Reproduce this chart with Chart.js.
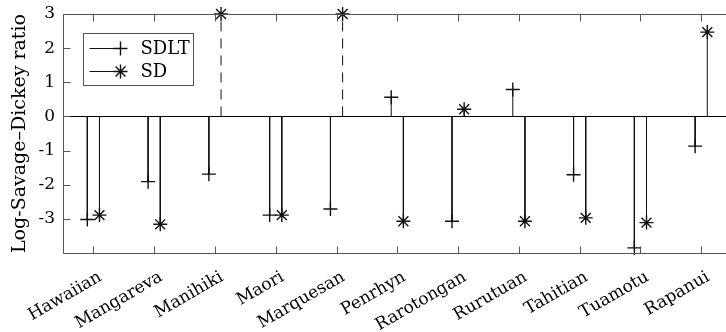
<!DOCTYPE html>
<html lang="en">
<head>
    <meta charset="UTF-8">
    <title>Log-Savage-Dickey ratio</title>
    <script src="https://cdn.jsdelivr.net/npm/chart.js"></script>
    <style>
        body {
            margin: 0;
            padding: 0;
            background: white;
            overflow: hidden;
        }
        #stemChart {
            display: block;
        }
    </style>
</head>
<body>
    <canvas id="stemChart" width="740" height="332"></canvas>

    <script>
        // values; Infinity = off the top of the axis (dashed stem)
        const categories = ["Hawaiian", "Mangareva", "Manihiki", "Maori", "Marquesan", "Penrhyn",
                            "Rarotongan", "Rurutuan", "Tahitian", "Tuamotu", "Rapanui"];
        const sdltValues = [-3.02, -1.91, -1.69, -2.89, -2.71, 0.56, -3.07, 0.79, -1.71, -3.85, -0.87];
        const sdValues = [-2.89, -3.16, Infinity, -2.89, Infinity, -3.07, 0.21, -3.07, -2.97, -3.11, 2.47];
        const yTicks = [3, 2, 1, 0, -1, -2, -3];

        const Y_MIN = -4, Y_MAX = 3;
        const FONT = "DejaVu Serif, Liberation Serif, Times New Roman, serif";
        const INK = "#111";
        const FRAME = "#555";

        function clampVal(v) {
            return isFinite(v) ? v : Y_MAX;
        }

        function stemData(values, offset, dashed) {
            const pts = [];
            values.forEach((v, i) => {
                if (isFinite(v) === dashed) return;
                const x = i + 1 + offset;
                pts.push({ x: x, y: 0 }, { x: x, y: clampVal(v) }, { x: x, y: null });
            });
            return pts;
        }

        function markerData(values, offset) {
            return values.map((v, i) => ({ x: i + 1 + offset, y: clampVal(v) }));
        }

        const stemStyle = {
            type: "scatter",
            showLine: true,
            spanGaps: false,
            pointRadius: 0,
            borderColor: INK,
            borderWidth: 1,
            clip: false
        };

        const markerStyle = {
            type: "scatter",
            showLine: false,
            pointRadius: 7,
            pointHoverRadius: 7,
            borderColor: INK,
            backgroundColor: INK,
            pointBorderWidth: 1.4,
            clip: false
        };

        // inward ticks, box, zero line
        const framePlugin = {
            id: "frame",
            beforeDatasetsDraw(chart) {
                const { ctx, chartArea: a, scales } = chart;
                const y0 = Math.round(scales.y.getPixelForValue(0)) + 0.5;
                ctx.save();
                ctx.strokeStyle = "#000";
                ctx.lineWidth = 1;
                ctx.beginPath();
                ctx.moveTo(a.left, y0);
                ctx.lineTo(a.right, y0);
                ctx.stroke();
                ctx.restore();
            },
            afterDraw(chart) {
                const { ctx, chartArea: a, scales } = chart;
                const tl = 7;
                ctx.save();
                ctx.strokeStyle = FRAME;
                ctx.lineWidth = 1;
                ctx.beginPath();
                const L = Math.round(a.left) + 0.5, T = Math.round(a.top) + 0.5, B = Math.round(a.bottom) + 0.5;
                ctx.moveTo(a.right, T);
                ctx.lineTo(L, T);
                ctx.lineTo(L, B);
                ctx.lineTo(a.right, B);
                yTicks.forEach(v => {
                    const py = Math.round(scales.y.getPixelForValue(v)) + 0.5;
                    ctx.moveTo(L, py);
                    ctx.lineTo(L + tl, py);
                });
                categories.forEach((c, i) => {
                    const px = Math.round(scales.x.getPixelForValue(i + 1)) + 0.5;
                    ctx.moveTo(px, B);
                    ctx.lineTo(px, B - tl);
                    ctx.moveTo(px, T);
                    ctx.lineTo(px, T + tl);
                });
                ctx.stroke();
                ctx.restore();
            }
        };

        const legendPlugin = {
            id: "boxLegend",
            afterDraw(chart) {
                const { ctx } = chart;
                const items = chart.data.datasets.filter(d => d.legendItem);
                const x0 = 83.5, y0 = 33.5, w = 110, h = 52;
                ctx.save();
                ctx.fillStyle = "white";
                ctx.fillRect(x0, y0, w, h);
                ctx.strokeStyle = FRAME;
                ctx.lineWidth = 1;
                ctx.strokeRect(x0, y0, w, h);
                items.forEach((d, k) => {
                    const yy = y0 + 15 + k * 23;
                    ctx.strokeStyle = INK;
                    ctx.lineWidth = 1;
                    ctx.beginPath();
                    ctx.moveTo(x0 + 6, yy);
                    ctx.lineTo(x0 + 37, yy);
                    ctx.stroke();
                    ctx.lineWidth = 1.4;
                    Chart.helpers.drawPoint(ctx, { pointStyle: d.pointStyle, radius: 7, borderWidth: 1.4 }, x0 + 37, yy);
                    ctx.fillStyle = "#000";
                    ctx.font = "18px " + FONT;
                    ctx.textBaseline = "middle";
                    ctx.fillText(d.label, x0 + 57, yy + 1);
                });
                ctx.restore();
            }
        };

        const ctx = document.getElementById("stemChart").getContext("2d");

        new Chart(ctx, {
            type: "scatter",
            data: {
                datasets: [
                    Object.assign({ label: "sdlt-stem", data: stemData(sdltValues, -0.1, false) }, stemStyle),
                    Object.assign({ label: "sd-stem", data: stemData(sdValues, 0.1, false) }, stemStyle),
                    Object.assign({ label: "sd-stem-inf", data: stemData(sdValues, 0.1, true), borderDash: [10, 7] }, stemStyle),
                    Object.assign({ label: "SDLT", legendItem: true, pointStyle: "cross", data: markerData(sdltValues, -0.1) }, markerStyle),
                    Object.assign({ label: "SD", legendItem: true, pointStyle: "star", data: markerData(sdValues, 0.1) }, markerStyle)
                ]
            },
            options: {
                responsive: false,
                animation: false,
                events: [],
                layout: { padding: { top: 14, right: 8, left: 0, bottom: 0 } },
                plugins: {
                    legend: { display: false },
                    tooltip: { enabled: false }
                },
                scales: {
                    x: {
                        type: "linear",
                        min: 0.5,
                        max: categories.length + 0.5,
                        grid: { display: false },
                        border: { display: false },
                        afterBuildTicks(scale) {
                            scale.ticks = categories.map((c, i) => ({ value: i + 1 }));
                        },
                        afterFit(scale) {
                            scale.height = 79;
                        },
                        ticks: {
                            autoSkip: false,
                            minRotation: 30,
                            maxRotation: 30,
                            padding: 6,
                            labelOffset: 7,
                            color: "#000",
                            font: { family: FONT, size: 17 },
                            callback: (v) => categories[Math.round(v) - 1] || ""
                        }
                    },
                    y: {
                        min: Y_MIN,
                        max: Y_MAX,
                        grid: { display: false },
                        border: { display: false },
                        afterBuildTicks(scale) {
                            scale.ticks = yTicks.map(v => ({ value: v }));
                        },
                        afterFit(scale) {
                            scale.width = 63;
                        },
                        ticks: {
                            padding: 0,
                            color: "#000",
                            font: { family: FONT, size: 17 }
                        },
                        title: {
                            display: true,
                            text: "Log-Savage–Dickey ratio",
                            color: "#000",
                            padding: { top: 9, bottom: 0 },
                            font: { family: FONT, size: 19 }
                        }
                    }
                }
            },
            plugins: [framePlugin, legendPlugin]
        });
    </script>
</body>
</html>
